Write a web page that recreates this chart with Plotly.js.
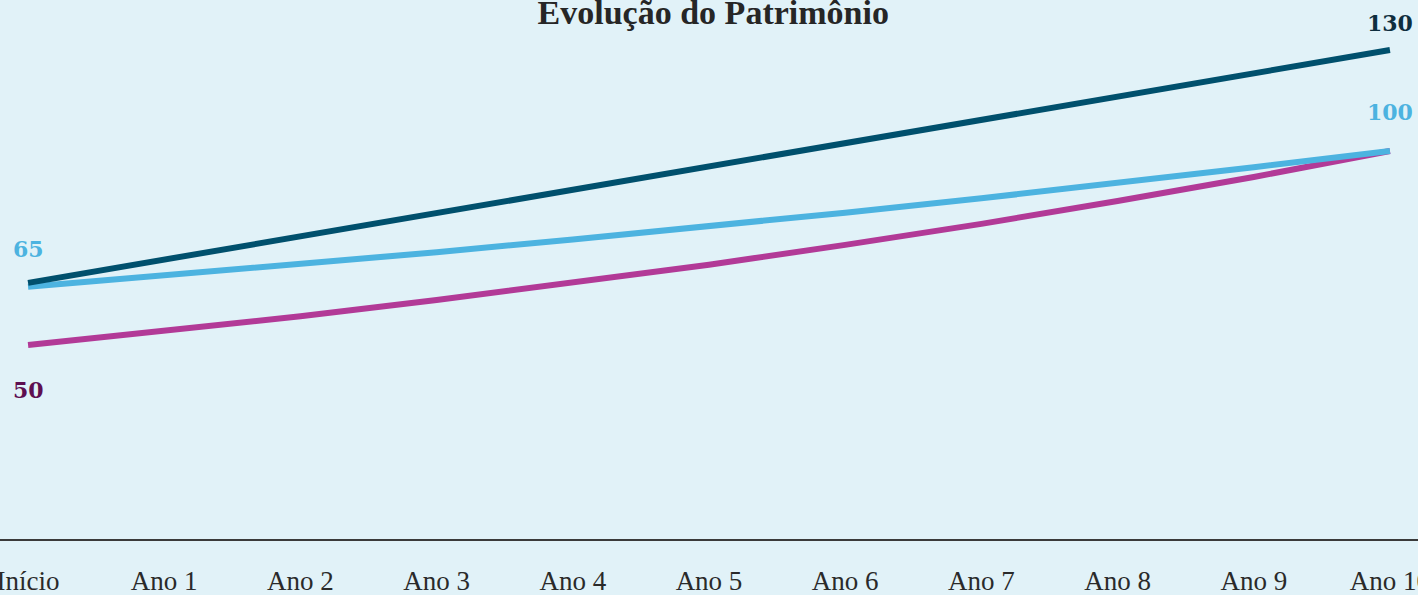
<!DOCTYPE html>
<html>
<head>
<meta charset="utf-8">
<script src="https://cdn.plot.ly/plotly-3.0.1.min.js"></script>
<style>
  html, body { margin: 0; padding: 0; background: #e1f2f8; }
  #plot { width: 1418px; height: 595px; }
</style>
</head>
<body>
<div id="plot"></div>
<script>
// categories along the x axis
const anos = ["Início", "Ano 1", "Ano 2", "Ano 3", "Ano 4", "Ano 5",
  "Ano 6", "Ano 7", "Ano 8", "Ano 9", "Ano 10"];

// series
const serieEscura = [66, 72, 78, 84, 90, 96, 102, 108, 114, 120, 126];
const serieClara = [65, 67.9, 70.8, 73.9, 77.2, 80.6, 84.1, 87.8, 91.7, 95.8, 100];
const serieMagenta = [50, 53.6, 57.4, 61.6, 66.0, 70.7, 75.8, 81.2, 87.1, 93.3, 100];

// end labels
const rotulos = [
  { idx: 10, text: "130", serie: serieEscura, color: "#0e2e3e", dy: -27 },
  { idx: 10, text: "100", serie: serieClara, color: "#4cb3e0", dy: -39 },
  { idx: 0, text: "65", serie: serieClara, color: "#4cb3e0", dy: -38 },
  { idx: 0, text: "50", serie: serieMagenta, color: "#5e0f50", dy: 45 },
];

const BG = "#e1f2f8";

function linha(y, color) {
  return {
    x: anos,
    y: y,
    type: "scatter",
    mode: "lines",
    line: { color: color, width: 6 },
    hoverinfo: "skip",
  };
}

const traces = [
  linha(serieMagenta, "#b23a97"),
  linha(serieClara, "#4cb3e0"),
  linha(serieEscura, "#00506d"),
];

const annotations = rotulos.map((r) => ({
  x: r.idx,
  y: r.serie[r.idx],
  xref: "x",
  yref: "y",
  text: r.text,
  showarrow: false,
  xanchor: "center",
  yanchor: "middle",
  yshift: -r.dy,
  font: { family: "DejaVu Serif", size: 22, color: r.color, weight: 700 },
}));

const layout = {
  width: 1418,
  height: 595,
  paper_bgcolor: BG,
  plot_bgcolor: BG,
  showlegend: false,
  margin: { l: 0, r: 0, t: 0, b: 56, pad: 0 },
  title: {
    text: "<b>Evolução do Patrimônio</b>",
    x: 0.503,
    xanchor: "center",
    y: 0.98,
    yref: "container",
    yanchor: "middle",
    font: { family: "Liberation Serif", size: 34, color: "#262626" },
  },
  xaxis: {
    type: "category",
    range: [-0.206, 10.206],
    showgrid: false,
    zeroline: false,
    showline: true,
    linecolor: "#3a3a3a",
    linewidth: 2,
    ticks: "",
    ticklabelstandoff: 17,
    tickfont: { family: "Liberation Serif", size: 27, color: "#2a2a2a" },
    fixedrange: true,
  },
  yaxis: {
    range: [0, 138.9],
    showgrid: false,
    zeroline: false,
    showline: false,
    showticklabels: false,
    ticks: "",
    fixedrange: true,
  },
  annotations: annotations,
};

Plotly.newPlot("plot", traces, layout, { displayModeBar: false, staticPlot: true });
</script>
</body>
</html>
